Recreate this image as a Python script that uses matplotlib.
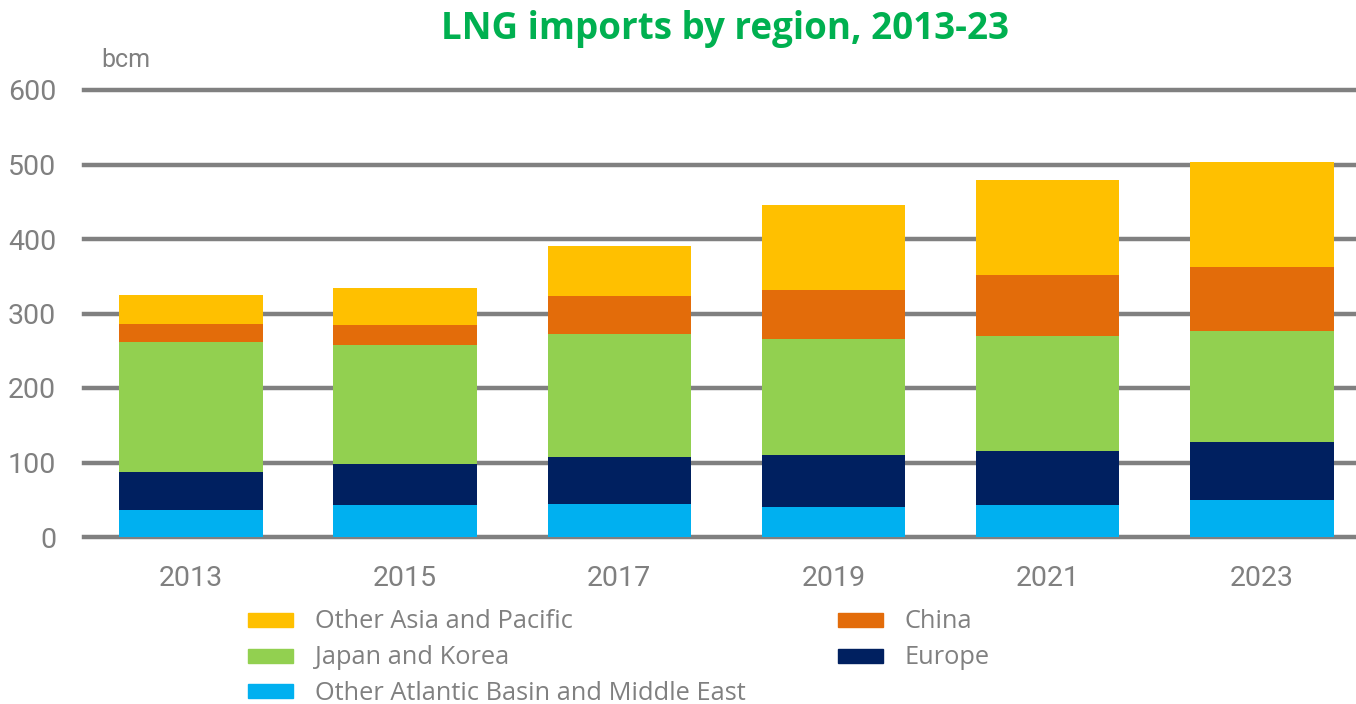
import numpy as np
import matplotlib.pyplot as plt
from matplotlib.patches import Rectangle

# data (bcm)
years = ['2013', '2015', '2017', '2019', '2021', '2023']
other_atlantic = [36, 43, 44, 40, 43, 50]
europe = [51, 55, 63, 70, 72, 78]
japan_korea = [175, 160, 165, 156, 155, 149]
china = [24, 27, 51, 66, 82, 85]
other_asia = [39, 49, 68, 114, 127, 141]

series = [
    ('Other Atlantic Basin and Middle East', other_atlantic, '#00B0F0'),
    ('Europe', europe, '#002060'),
    ('Japan and Korea', japan_korea, '#92D050'),
    ('China', china, '#E36C0A'),
    ('Other Asia and Pacific', other_asia, '#FFC000'),
]

grey = '#808080'
tick_font = ['Roboto', 'DejaVu Sans']

fig = plt.figure(figsize=(13.56, 7.04), dpi=100)
ax = fig.add_axes([84 / 1356, 1 - 537 / 704, 1 - 84 / 1356, (537 - 90) / 704])

x = np.arange(len(years))
bottom = np.zeros(len(years))
for name, vals, col in series:
    ax.bar(x, vals, width=0.67, bottom=bottom, color=col, linewidth=0, zorder=3)
    bottom += np.array(vals)

ax.set_xlim(-0.5, 5.44)
ax.set_ylim(0, 600)
for yv in range(0, 700, 100):
    ax.axhline(yv, color=grey, lw=3.2, zorder=1, clip_on=False)

for s in ax.spines.values():
    s.set_visible(False)
ax.tick_params(length=0)
ax.set_xticks(x)
ax.set_xticklabels(years)
ax.set_yticks(range(0, 700, 100))
for lab in ax.get_xticklabels() + ax.get_yticklabels():
    lab.set_family(tick_font)
    lab.set_fontsize(20.5)
    lab.set_color(grey)
ax.tick_params(axis='x', pad=20)
ax.tick_params(axis='y', pad=20)

fig.text(101 / 1356, 1 - 60 / 704, 'bcm', family=tick_font, fontsize=18,
         color=grey, va='center', ha='left')
fig.text(725 / 1356, 1 - 29 / 704, 'LNG imports by region, 2013-23',
         family='Open Sans', fontweight='bold', fontsize=26.5, color='#00B050',
         ha='center', va='center')

# legend, drawn by hand to match the two-column layout
slots = {
    'Other Asia and Pacific': (248, 620),
    'Japan and Korea': (248, 656),
    'Other Atlantic Basin and Middle East': (248, 691),
    'China': (838, 620),
    'Europe': (838, 656),
}
for name, vals, col in series:
    px, py = slots[name]
    fig.patches.append(Rectangle((px / 1356, 1 - (py + 7) / 704), 45 / 1356, 14 / 704,
                                 transform=fig.transFigure, color=col, figure=fig))
    fig.text((px + 67) / 1356, 1 - (py + 2) / 704, name, family='Open Sans', fontsize=18.3,
             color=grey, va='center', ha='left')

fig.savefig('out.png', dpi=100)
